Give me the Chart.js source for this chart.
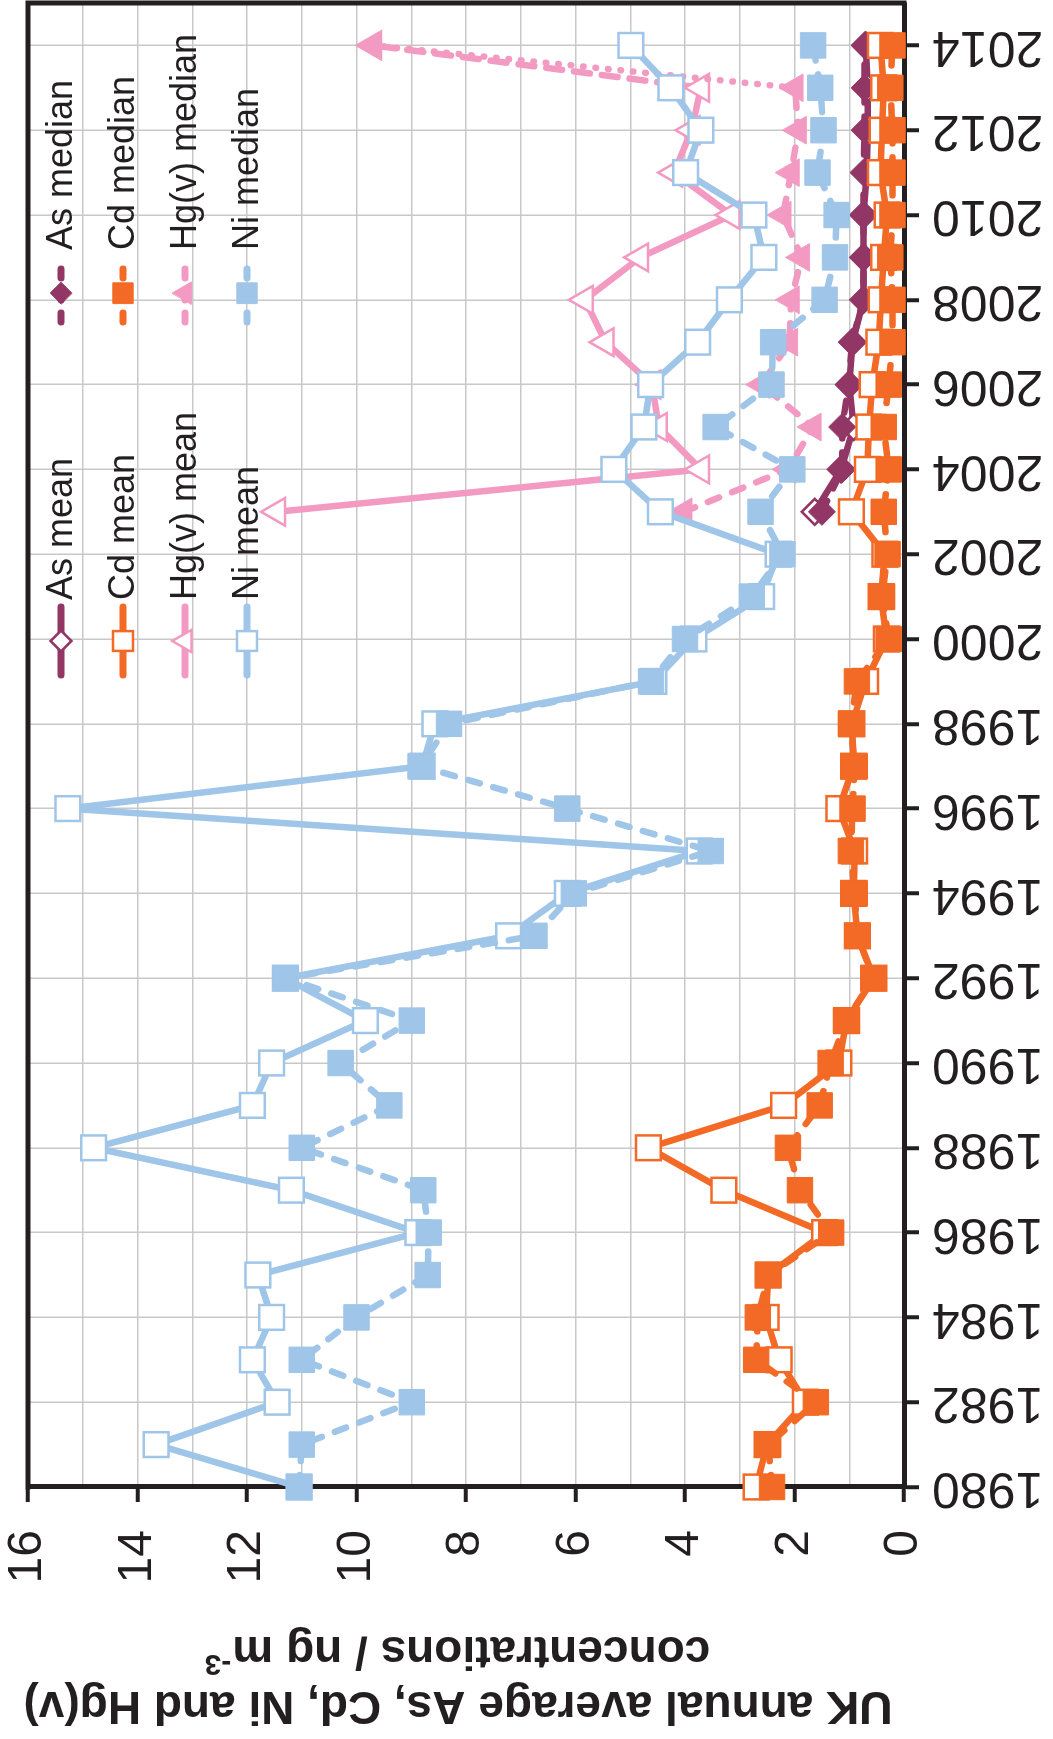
<!DOCTYPE html>
<html>
<head>
<meta charset="utf-8">
<title>UK annual average As, Cd, Ni and Hg(v)</title>
<style>
  html, body { margin: 0; padding: 0; background: #ffffff; overflow: hidden; width: 1053px; height: 1739px; }
  /* The chart is laid out landscape and turned a quarter turn so the year axis runs up the right edge */
  #wrap { position: absolute; left: 0; top: 0; width: 1739px; height: 1053px;
          transform-origin: 0 0; transform: translate(0, 1739px) rotate(-90deg); }
  canvas { display: block; }
</style>
<script src="https://cdn.jsdelivr.net/npm/chart.js@4.4.1/dist/chart.umd.min.js"></script>
</head>
<body>
<div id="wrap"><canvas id="chart" width="1739" height="1053"></canvas></div>
<script>
// ---- data -------------------------------------------------------------
const years = [1980, 1981, 1982, 1983, 1984, 1985, 1986, 1987, 1988, 1989,
               1990, 1991, 1992, 1993, 1994, 1995, 1996, 1997, 1998, 1999,
               2000, 2001, 2002, 2003, 2004, 2005, 2006, 2007, 2008, 2009,
               2010, 2011, 2012, 2013, 2014];
const recentYears = [2003, 2004, 2005, 2006, 2007, 2008, 2009, 2010, 2011, 2012, 2013, 2014];

const niMean   = [11.05, 13.66, 11.45, 11.9, 11.55, 11.8, 8.88, 11.19, 14.8, 11.9,
                  11.55, 9.84, 11.3, 7.22, 6.15, 3.74, 15.27, 8.8, 8.57, 4.57,
                  3.84, 2.6, 2.3, 4.45, 5.3, 4.75, 4.63, 3.77, 3.19, 2.56,
                  2.74, 3.99, 3.71, 4.26, 4.99];
const niMedian = [11.05, 11.0, 8.99, 11.0, 10.0, 8.7, 8.68, 8.78, 11.0, 9.4,
                  10.29, 8.99, 11.29, 6.75, 6.03, 3.53, 6.15, 8.83, 8.31, 4.62,
                  4.0, 2.78, 2.22, 2.62, 2.04, 3.44, 2.42, 2.39, 1.45, 1.26,
                  1.23, 1.58, 1.47, 1.53, 1.66];
const cdMean   = [2.7, 2.5, 1.8, 2.28, 2.52, 2.48, 1.45, 3.29, 4.67, 2.2,
                  1.19, 1.05, 0.55, 0.85, 0.92, 0.9, 1.19, 0.92, 0.95, 0.7,
                  0.32, 0.42, 0.35, 0.96, 0.67, 0.64, 0.58, 0.46, 0.42, 0.37,
                  0.31, 0.43, 0.4, 0.37, 0.43];
const cdMedian = [2.41, 2.48, 1.61, 2.7, 2.67, 2.48, 1.33, 1.9, 2.12, 1.54,
                  1.34, 1.06, 0.56, 0.85, 0.9, 0.97, 0.94, 0.9, 0.97, 0.86,
                  0.28, 0.4, 0.3, 0.37, 0.28, 0.37, 0.28, 0.21, 0.21, 0.25,
                  0.21, 0.21, 0.21, 0.25, 0.21];
const asMean   = [1.63, 1.15, 0.92, 1.0, 0.94, 0.74, 0.74, 0.74, 0.68, 0.66, 0.66, 0.7];
const asMedian = [1.5, 1.13, 1.13, 1.01, 0.95, 0.74, 0.74, 0.74, 0.74, 0.72, 0.72, 0.72];
const hgMean   = [11.45, 3.71, 4.48, 4.6, 5.45, 5.83, 4.82, 3.15, 4.2, 3.88, 3.71, 9.7];
const hgMedian = [4.02, 2.12, 1.66, 2.6, 2.09, 2.06, 1.87, 2.21, 2.06, 1.93, 1.99, 9.7];

const seriesNames = ['As mean', 'As median', 'Cd mean', 'Cd median',
                     'Hg(v) mean', 'Hg(v) median', 'Ni mean', 'Ni median'];
const titleLine1 = 'UK annual average As, Cd, Ni and Hg(v)';
const titleLine2 = 'concentrations / ng m';
const titleSup = '-3';

// ---- styling ------------------------------------------------------------
const INK = '#231f20';
const GRID = '#c8c8c8';
const FONT = "'Liberation Sans', Arial, Helvetica, sans-serif";
const C_AS = '#923666';
const C_CD = '#f26a25';
const C_HG = '#f39ac3';
const C_NI = '#9fc5e8';
const MEDIAN_DASH = [12, 14];
const LINE_W = 6.5;

function pairs(xs, ys) { return xs.map((x, i) => ({ x: x, y: ys[i] })); }
const lastHg = recentYears.length - 1;

function meanSet(label, xs, ys, color, style, radius, order) {
  return { label, data: pairs(xs, ys), order,
    borderColor: color, backgroundColor: color, borderWidth: LINE_W, borderCapStyle: 'round', borderJoinStyle: 'round',
    pointStyle: style, pointRadius: radius, pointBackgroundColor: '#ffffff', pointBorderColor: color,
    pointBorderWidth: 2.5, tension: 0, clip: false, isMedian: false };
}
function medianSet(label, xs, ys, color, style, radius, order) {
  return { label, data: pairs(xs, ys), order,
    borderColor: color, backgroundColor: color, borderWidth: LINE_W, borderDash: MEDIAN_DASH, borderCapStyle: 'round',
    pointStyle: style, pointRadius: radius, pointBackgroundColor: color, pointBorderColor: color,
    pointBorderWidth: 1, tension: 0, clip: false, isMedian: true };
}

const hgMeanSet = meanSet(seriesNames[4], recentYears, hgMean, C_HG, 'triangle', 16, 7);
hgMeanSet.segment = { borderDash: c => c.p1DataIndex === lastHg ? [16, 12] : undefined };
const hgMedianSet = medianSet(seriesNames[5], recentYears, hgMedian, C_HG, 'triangle', 16, 6);
hgMedianSet.segment = { borderDash: c => c.p1DataIndex === lastHg ? [0.5, 12] : undefined };

const datasets = [
  meanSet(seriesNames[0], recentYears, asMean, C_AS, 'rectRot', 13, 5),
  medianSet(seriesNames[1], recentYears, asMedian, C_AS, 'rectRot', 13.5, 4),
  meanSet(seriesNames[2], years, cdMean, C_CD, 'rect', 17.5, 3),
  medianSet(seriesNames[3], years, cdMedian, C_CD, 'rect', 18, 2),
  hgMeanSet,
  hgMedianSet,
  meanSet(seriesNames[6], years, niMean, C_NI, 'rect', 17.5, 1),
  medianSet(seriesNames[7], years, niMedian, C_NI, 'rect', 18, 0)
];

// ---- drawing helpers ----------------------------------------------------
function drawMarker(ctx, style, r, x, y, fill, stroke, bw) {
  ctx.beginPath();
  if (style === 'rect') {
    const s = r * Math.SQRT1_2;
    ctx.rect(x - s, y - s, 2 * s, 2 * s);
  } else if (style === 'rectRot') {
    ctx.moveTo(x - r, y); ctx.lineTo(x, y - r); ctx.lineTo(x + r, y); ctx.lineTo(x, y + r);
    ctx.closePath();
  } else {
    ctx.moveTo(x, y - r);
    ctx.lineTo(x + Math.sin(2 * Math.PI / 3) * r, y + 0.5 * r);
    ctx.lineTo(x - Math.sin(2 * Math.PI / 3) * r, y + 0.5 * r);
    ctx.closePath();
  }
  ctx.fillStyle = fill; ctx.fill();
  ctx.lineWidth = bw; ctx.strokeStyle = stroke; ctx.stroke();
}

// Black box round the plotting area (top and right sides; axes draw the others)
const frame = {
  id: 'frame',
  beforeDatasetsDraw(chart) {
    const a = chart.chartArea, ctx = chart.ctx;
    ctx.save();
    ctx.strokeStyle = INK; ctx.lineWidth = 5; ctx.lineCap = 'square';
    ctx.beginPath();
    ctx.moveTo(a.left, a.top); ctx.lineTo(a.right, a.top); ctx.lineTo(a.right, a.bottom);
    ctx.stroke();
    ctx.restore();
  }
};

// Two-column key inside the plot: means on the left, medians on the right
const keyBox = {
  id: 'keyBox',
  afterDatasetsDraw(chart) {
    const ctx = chart.ctx;
    const rows = [61, 123, 185, 247];
    const cols = [
      { x0: 1064, x1: 1132, sym: 1098, text: 1139 },
      { x0: 1414, x1: 1478, sym: 1446, text: 1489 }
    ];
    ctx.save();
    chart.data.datasets.forEach((ds, i) => {
      const row = rows[Math.floor(i / 2)];
      const col = cols[i % 2];
      ctx.beginPath();
      ctx.setLineDash(ds.isMedian ? [9, 13] : []);
      ctx.lineDashOffset = ds.isMedian ? -3 : 0;
      ctx.lineCap = 'round';
      ctx.lineWidth = 7;
      ctx.strokeStyle = ds.borderColor;
      ctx.moveTo(col.x0, row); ctx.lineTo(col.x1, row);
      ctx.stroke();
      ctx.setLineDash([]);
      drawMarker(ctx, ds.pointStyle, ds.pointRadius * 0.8, col.sym, row,
                 ds.pointBackgroundColor, ds.pointBorderColor, ds.pointBorderWidth);
      ctx.fillStyle = INK;
      ctx.font = '36px ' + FONT;
      ctx.textAlign = 'left';
      ctx.textBaseline = 'middle';
      ctx.fillText(ds.label, col.text, row + 1);
    });
    ctx.restore();
  }
};

// Value-axis title in two lines, the second with a superscript exponent
const valueTitle = {
  id: 'valueTitle',
  afterDraw(chart) {
    const ctx = chart.ctx;
    const cy = 458;
    ctx.save();
    ctx.fillStyle = INK;
    ctx.textBaseline = 'alphabetic';
    ctx.translate(47, cy);
    ctx.rotate(-Math.PI / 2);
    ctx.font = 'bold 46px ' + FONT;
    ctx.textAlign = 'center';
    ctx.fillText(titleLine1, 0, 0);
    ctx.restore();

    ctx.save();
    ctx.fillStyle = INK;
    ctx.textBaseline = 'alphabetic';
    ctx.translate(102, cy);
    ctx.rotate(-Math.PI / 2);
    ctx.font = 'bold 46px ' + FONT;
    const w1 = ctx.measureText(titleLine2).width;
    ctx.font = 'bold 30px ' + FONT;
    const w2 = ctx.measureText(titleSup).width;
    const start = -(w1 + w2) / 2;
    ctx.textAlign = 'left';
    ctx.font = 'bold 46px ' + FONT;
    ctx.fillText(titleLine2, start, 0);
    ctx.font = 'bold 30px ' + FONT;
    ctx.fillText(titleSup, start + w1 + 1, -18);
    ctx.restore();
  }
};

new Chart(document.getElementById('chart'), {
  type: 'line',
  data: { datasets },
  options: {
    responsive: false,
    animation: false,
    devicePixelRatio: 1,
    layout: { autoPadding: false, padding: { top: 28, right: 3, left: 0, bottom: 0 } },
    plugins: { legend: { display: false }, tooltip: { enabled: false }, title: { display: false } },
    scales: {
      x: {
        type: 'linear', min: 1980, max: 2015,
        ticks: { stepSize: 2, includeBounds: false, autoSkip: false, minRotation: 90, maxRotation: 90,
                 padding: 13, color: INK, font: { family: FONT, size: 50 }, callback: v => String(v) },
        grid: { color: GRID, lineWidth: 1.5, tickLength: 15, tickColor: INK, tickWidth: 4 },
        border: { color: INK, width: 5 },
        afterFit: s => { s.height = 149; s.paddingLeft = 0; s.paddingRight = 0; }
      },
      y: {
        type: 'linear', min: 0, max: 16,
        ticks: { stepSize: 1, autoSkip: false, padding: 28, color: INK, font: { family: FONT, size: 48 },
                 callback: v => (v % 2 === 0 ? String(v) : '') },
        grid: { color: GRID, lineWidth: 1.5, tickLength: 15, tickWidth: 4,
                tickColor: c => (c.tick && c.tick.value % 2 === 0 ? INK : 'rgba(0,0,0,0)') },
        border: { color: INK, width: 5 },
        afterFit: s => { s.width = 252; s.paddingTop = 0; s.paddingBottom = 0; }
      }
    }
  },
  plugins: [frame, keyBox, valueTitle]
});
</script>
</body>
</html>
